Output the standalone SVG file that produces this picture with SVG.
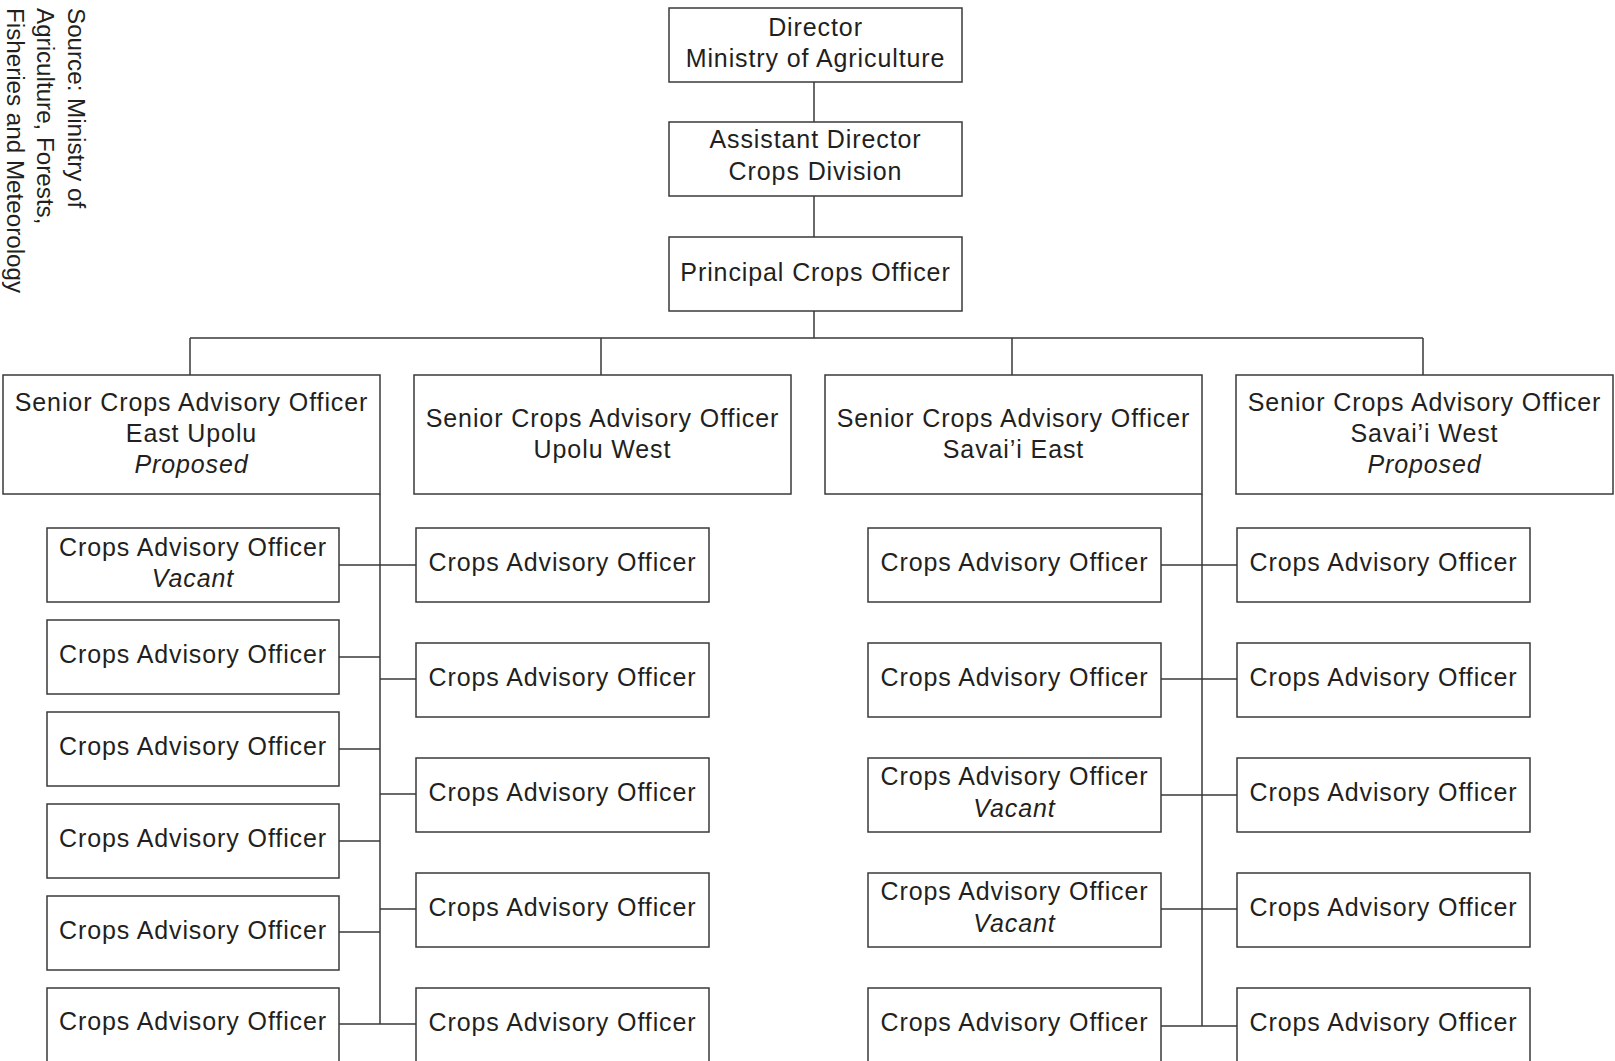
<svg xmlns="http://www.w3.org/2000/svg" width="1615" height="1061" viewBox="0 0 1615 1061">
<style>
  .box { fill: #ffffff; stroke: #3a3a3a; stroke-width: 1.5; }
  .ln { stroke: #3a3a3a; stroke-width: 1.5; fill: none; }
  text { font-family: "Liberation Sans", Arial, sans-serif; font-size: 25px; fill: #231f20; letter-spacing: 0.9px; }
  .c { text-anchor: middle; }
  .i { font-style: italic; }
  .src { font-size: 24.2px; letter-spacing: 0; }
</style>
<rect width="1615" height="1061" fill="#ffffff"/>

<g id="source">
  <text class="src" transform="translate(68,8) rotate(90)">Source: Ministry of</text>
  <text class="src" transform="translate(37,8) rotate(90)">Agriculture, Forests,</text>
  <text class="src" transform="translate(7,8) rotate(90)">Fisheries and Meteorology</text>
</g>

<g id="connectors">
  <path class="ln" d="M814,82 V122 M814,196 V237 M814,311 V338 M190,338 H1423 M190,338 V375 M601,338 V375 M1012,338 V375 M1423,338 V375"/>
  <path class="ln" d="M380,494 V1024 M339,565 H416 M339,657 H380 M339,749 H380 M339,841 H380 M339,932 H380 M339,1024 H416 M380,679 H416 M380,794 H416 M380,909 H416"/>
  <path class="ln" d="M1202,494 V1026 M1161,565 H1237 M1161,679 H1237 M1161,795 H1237 M1161,909 H1237 M1161,1026 H1237"/>
</g>

<g id="director">
  <rect class="box" x="669" y="8" width="293" height="74"/>
  <text class="c" x="815.5" y="36">Director</text>
  <text class="c" x="815.5" y="67">Ministry of Agriculture</text>
</g>
<g id="assistant-director">
  <rect class="box" x="669" y="122" width="293" height="74"/>
  <text class="c" x="815.5" y="148">Assistant Director</text>
  <text class="c" x="815.5" y="180">Crops Division</text>
</g>
<g id="principal">
  <rect class="box" x="669" y="237" width="293" height="74"/>
  <text class="c" x="815.5" y="281">Principal Crops Officer</text>
</g>

<g id="senior-east-upolu">
  <rect class="box" x="3" y="375" width="377" height="119"/>
  <text class="c" x="191.5" y="411">Senior Crops Advisory Officer</text>
  <text class="c" x="191.5" y="442">East Upolu</text>
  <text class="c i" x="191.5" y="473">Proposed</text>
</g>
<g id="senior-upolu-west">
  <rect class="box" x="414" y="375" width="377" height="119"/>
  <text class="c" x="602.5" y="427">Senior Crops Advisory Officer</text>
  <text class="c" x="602.5" y="458">Upolu West</text>
</g>
<g id="senior-savaii-east">
  <rect class="box" x="825" y="375" width="377" height="119"/>
  <text class="c" x="1013.5" y="427">Senior Crops Advisory Officer</text>
  <text class="c" x="1013.5" y="458">Savai’i East</text>
</g>
<g id="senior-savaii-west">
  <rect class="box" x="1236" y="375" width="377" height="119"/>
  <text class="c" x="1424.5" y="411">Senior Crops Advisory Officer</text>
  <text class="c" x="1424.5" y="442">Savai’i West</text>
  <text class="c i" x="1424.5" y="473">Proposed</text>
</g>

<!-- Column A -->
<g id="cao-a1"><rect class="box" x="47" y="528" width="292" height="74"/>
  <text class="c" x="193" y="556">Crops Advisory Officer</text>
  <text class="c i" x="193" y="587">Vacant</text></g>
<g id="cao-a2"><rect class="box" x="47" y="620" width="292" height="74"/>
  <text class="c" x="193" y="663">Crops Advisory Officer</text></g>
<g id="cao-a3"><rect class="box" x="47" y="712" width="292" height="74"/>
  <text class="c" x="193" y="755">Crops Advisory Officer</text></g>
<g id="cao-a4"><rect class="box" x="47" y="804" width="292" height="74"/>
  <text class="c" x="193" y="847">Crops Advisory Officer</text></g>
<g id="cao-a5"><rect class="box" x="47" y="896" width="292" height="74"/>
  <text class="c" x="193" y="939">Crops Advisory Officer</text></g>
<g id="cao-a6"><rect class="box" x="47" y="988" width="292" height="76"/>
  <text class="c" x="193" y="1030">Crops Advisory Officer</text></g>

<!-- Column B -->
<g id="cao-b1"><rect class="box" x="416" y="528" width="293" height="74"/>
  <text class="c" x="562.5" y="571">Crops Advisory Officer</text></g>
<g id="cao-b2"><rect class="box" x="416" y="643" width="293" height="74"/>
  <text class="c" x="562.5" y="686">Crops Advisory Officer</text></g>
<g id="cao-b3"><rect class="box" x="416" y="758" width="293" height="74"/>
  <text class="c" x="562.5" y="801">Crops Advisory Officer</text></g>
<g id="cao-b4"><rect class="box" x="416" y="873" width="293" height="74"/>
  <text class="c" x="562.5" y="916">Crops Advisory Officer</text></g>
<g id="cao-b5"><rect class="box" x="416" y="988" width="293" height="76"/>
  <text class="c" x="562.5" y="1031">Crops Advisory Officer</text></g>

<!-- Column C -->
<g id="cao-c1"><rect class="box" x="868" y="528" width="293" height="74"/>
  <text class="c" x="1014.5" y="571">Crops Advisory Officer</text></g>
<g id="cao-c2"><rect class="box" x="868" y="643" width="293" height="74"/>
  <text class="c" x="1014.5" y="686">Crops Advisory Officer</text></g>
<g id="cao-c3"><rect class="box" x="868" y="758" width="293" height="74"/>
  <text class="c" x="1014.5" y="785">Crops Advisory Officer</text>
  <text class="c i" x="1014.5" y="817">Vacant</text></g>
<g id="cao-c4"><rect class="box" x="868" y="873" width="293" height="74"/>
  <text class="c" x="1014.5" y="900">Crops Advisory Officer</text>
  <text class="c i" x="1014.5" y="932">Vacant</text></g>
<g id="cao-c5"><rect class="box" x="868" y="988" width="293" height="76"/>
  <text class="c" x="1014.5" y="1031">Crops Advisory Officer</text></g>

<!-- Column D -->
<g id="cao-d1"><rect class="box" x="1237" y="528" width="293" height="74"/>
  <text class="c" x="1383.5" y="571">Crops Advisory Officer</text></g>
<g id="cao-d2"><rect class="box" x="1237" y="643" width="293" height="74"/>
  <text class="c" x="1383.5" y="686">Crops Advisory Officer</text></g>
<g id="cao-d3"><rect class="box" x="1237" y="758" width="293" height="74"/>
  <text class="c" x="1383.5" y="801">Crops Advisory Officer</text></g>
<g id="cao-d4"><rect class="box" x="1237" y="873" width="293" height="74"/>
  <text class="c" x="1383.5" y="916">Crops Advisory Officer</text></g>
<g id="cao-d5"><rect class="box" x="1237" y="988" width="293" height="76"/>
  <text class="c" x="1383.5" y="1031">Crops Advisory Officer</text></g>
</svg>
